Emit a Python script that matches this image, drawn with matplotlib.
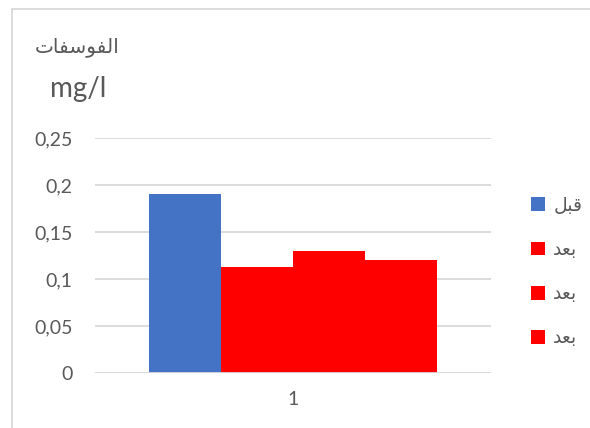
import matplotlib.pyplot as plt
from matplotlib.patches import Rectangle

plt.rcParams['font.family'] = ['Lato', 'DejaVu Sans']

# Arabic labels written in shaped presentation forms, visual order
title_ar = '\uFE95\uFE8E\uFED4\uFEB3\uFEEE\uFED4\uFEDF\uFE8D'   # الفوسفات
unit = 'mg/l'
before = '\uFEDE\uFE92\uFED7'   # قبل
after = '\uFEAA\uFECC\uFE91'    # بعد

categories = ['1']
series_names = [before, after, after, after]
series_values = [0.19, 0.113, 0.13, 0.12]
series_colors = ['#4472C4', '#FF0000', '#FF0000', '#FF0000']
yticks = [0, 0.05, 0.1, 0.15, 0.2, 0.25]

txt = '#595959'
grid = '#D9D9D9'

fig = plt.figure(figsize=(5.9, 4.28), dpi=100)
ax = fig.add_axes([95 / 590, 1 - 373 / 428, 396 / 590, 235 / 428])

n = len(series_values)
w = 1 / (n + 1.5)
for i, (name, val, col) in enumerate(zip(series_names, series_values, series_colors)):
    ax.bar(0 + (i - (n - 1) / 2) * w, val, width=w, color=col, label=name, zorder=3)

ax.set_xlim(-0.5, 0.5)
ax.set_ylim(0, 0.25)
ax.set_yticks(yticks)
ax.set_yticklabels([('%g' % v).replace('.', ',') for v in yticks])
ax.set_xticks([0])
ax.set_xticklabels(categories)
ax.tick_params(length=0, colors=txt, labelsize=14)
ax.tick_params(axis='y', pad=16)
ax.tick_params(axis='x', pad=13)
ax.grid(axis='y', color=grid, linewidth=1.3, zorder=0)
for s in ax.spines.values():
    s.set_visible(False)
ax.axhline(0, color=grid, linewidth=1.3, zorder=4)

fig.text(77 / 590, 1 - 47 / 428, title_ar, ha='center', va='center',
         fontsize=14.5, color=txt, family=['DejaVu Sans'])
fig.text(78 / 590, 1 - 89 / 428, unit, ha='center', va='center',
         fontsize=20, color=txt)

leg = fig.legend(loc='upper left', bbox_to_anchor=(514 / 590, 1 - 180 / 428),
                 frameon=False, fontsize=13.5, labelcolor=txt,
                 handlelength=0.75, handleheight=0.75, handletextpad=0.45,
                 labelspacing=1.45)

# chart area border
fig.patches.append(Rectangle((12 / 590, -0.1), 1.2, 1 - 9 / 428 + 0.1,
                             transform=fig.transFigure, fill=False,
                             edgecolor=grid, linewidth=1.3))

fig.savefig('out.png', dpi=100)
